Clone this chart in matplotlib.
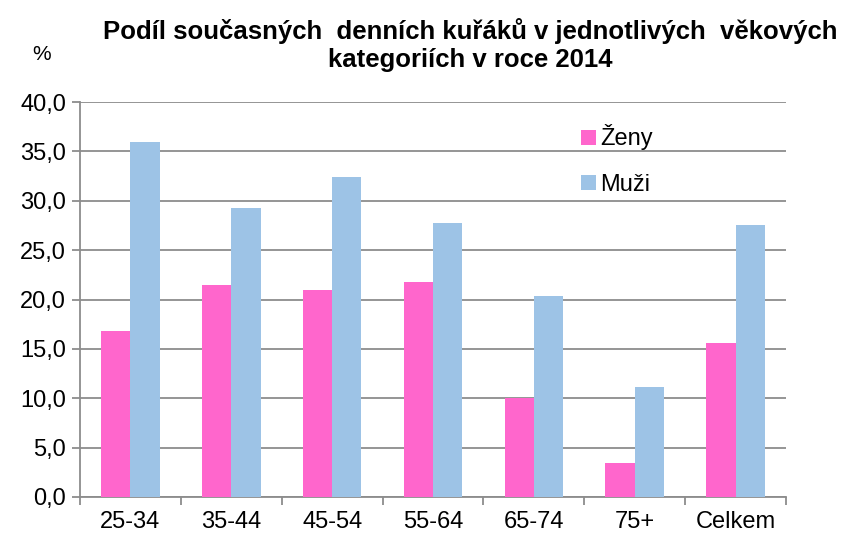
import matplotlib
matplotlib.use("Agg")
import matplotlib.pyplot as plt
import numpy as np

categories = ["25-34", "35-44", "45-54", "55-64", "65-74", "75+", "Celkem"]
zeny = [16.8, 21.5, 21.0, 21.8, 10.0, 3.4, 15.6]
muzi = [36.0, 29.3, 32.4, 27.7, 20.4, 11.1, 27.5]
yticks = [0, 5, 10, 15, 20, 25, 30, 35, 40]

plt.rcParams['font.family'] = ['Liberation Sans', 'DejaVu Sans']

fig = plt.figure(figsize=(8.42, 5.38), dpi=100)
ax = fig.add_axes([80/842, 1-497/538, (786-80)/842, (497-102)/538])

x = np.arange(len(categories))
w = 0.29
c_z = "#FF66CC"
c_m = "#9DC3E6"
ax.bar(x - w/2, zeny, w, color=c_z, label="Ženy", zorder=3)
ax.bar(x + w/2, muzi, w, color=c_m, label="Muži", zorder=3)

ax.set_xlim(-0.5, len(categories) - 0.5)
ax.set_ylim(0, 40)
ax.set_yticks(yticks)
ax.set_yticklabels([f"{v:.1f}".replace(".", ",") for v in yticks], fontsize=17)
ax.yaxis.grid(True, color="#8c8c8c", linewidth=1.3, zorder=0)
ax.set_axisbelow(True)

ax.set_xticks(x)
ax.set_xticklabels(categories, fontsize=17)
ax.tick_params(axis='x', which='major', length=0, pad=10)
ax.set_xticks(np.arange(-0.5, len(categories)), minor=True)
ax.tick_params(axis='x', which='minor', length=6, width=1.3, color="#8c8c8c")
ax.tick_params(axis='y', length=6, width=1.3, color="#8c8c8c", pad=4)

for s in ["top", "right"]:
    ax.spines[s].set_visible(False)
for s in ["left", "bottom"]:
    ax.spines[s].set_color("#8c8c8c")
    ax.spines[s].set_linewidth(1.3)

title = "Podíl současných  denních kuřáků v jednotlivých  věkových\nkategoriích v roce 2014"
fig.text(470/842, 1-45/538, title, ha="center", va="center", fontsize=18.5,
         fontweight="bold", linespacing=1.2)
fig.text(42/842, 1-55/538, "%", ha="center", va="center", fontsize=15)

leg = ax.legend(loc="upper left", bbox_to_anchor=(572/842, 1-115/538), bbox_transform=fig.transFigure,
                frameon=False, fontsize=17, handlelength=0.6, handleheight=0.6,
                handletextpad=0.2, labelspacing=1.0, borderaxespad=0)

fig.savefig("out.png", dpi=100)
